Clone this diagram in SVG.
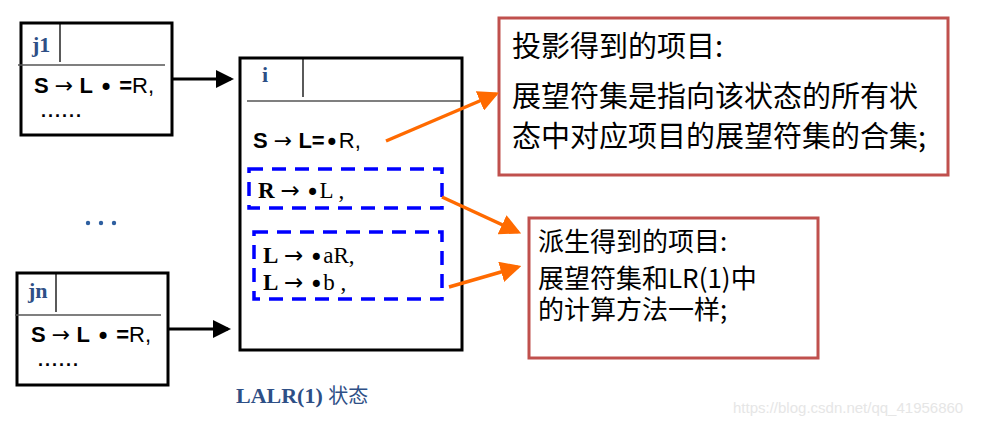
<svg xmlns="http://www.w3.org/2000/svg" width="986" height="426" viewBox="0 0 986 426">
<defs>
<style>
.box{fill:#fff;stroke:#000;stroke-width:3}
.thin{stroke:#000;stroke-width:1.3;fill:none}
.sep{stroke:#555;stroke-width:1.5;fill:none}
.lbl{font-family:"Liberation Serif",serif;font-weight:bold;fill:#2e4f86;font-size:22px}
.sans{font-family:"Liberation Sans",Arial,sans-serif;font-size:22px;fill:#000}
.serif{font-family:"Liberation Serif","Times New Roman",serif;font-size:23px;fill:#000}
.b{font-weight:bold}
.ar{font-family:"DejaVu Sans",sans-serif;font-weight:normal}
.dot{font-family:"DejaVu Sans",sans-serif;font-weight:normal;font-size:24px;baseline-shift:-3px}
.ell{font-family:"Liberation Sans",sans-serif;font-weight:bold;font-size:18px;letter-spacing:2px}
.dash{fill:none;stroke:#0000ff;stroke-width:3.5;stroke-dasharray:14,9}
.note{fill:#fff;stroke:#c0504d;stroke-width:3}
.cjk{font-family:"Noto Sans CJK SC","Liberation Sans",sans-serif;fill:#000}
.blk{stroke:#000;stroke-width:3;fill:none}
.org{stroke:#ff6a00;stroke-width:3.5;fill:none}
</style>
<marker id="ah" markerWidth="6" markerHeight="6" refX="5" refY="3" orient="auto" markerUnits="strokeWidth"><path d="M0,0 L6,3 L0,6 Z" fill="#000"/></marker>
<marker id="ao" markerWidth="6" markerHeight="6" refX="5" refY="3" orient="auto" markerUnits="strokeWidth"><path d="M0,0 L6,3 L0,6 Z" fill="#ff6a00"/></marker>
</defs>

<g id="j1">
<rect class="box" x="21" y="23" width="151" height="112"/>
<line class="thin" x1="60" y1="23" x2="60" y2="62"/>
<line class="sep" x1="18" y1="65" x2="165" y2="65"/>
<text class="lbl" x="32" y="52">j1</text>
<text class="sans" x="34" y="93"><tspan class="b">S</tspan> <tspan class="ar">→</tspan> <tspan class="b">L</tspan> <tspan class="dot">•</tspan> <tspan class="b">=</tspan>R,</text>
<text class="ell" x="41" y="117">......</text>
</g>

<g id="jn">
<rect class="box" x="17" y="273" width="151" height="112"/>
<line class="thin" x1="56" y1="273" x2="56" y2="312"/>
<line class="sep" x1="15" y1="315" x2="161" y2="315"/>
<text class="lbl" x="28" y="298">jn</text>
<text class="sans" x="31" y="342"><tspan class="b">S</tspan> <tspan class="ar">→</tspan> <tspan class="b">L</tspan> <tspan class="dot">•</tspan> <tspan class="b">=</tspan>R,</text>
<text class="ell" x="38" y="366">......</text>
</g>

<g id="dots" fill="#2e5fa0">
<circle cx="88" cy="223" r="2.2"/>
<circle cx="101" cy="223" r="2.2"/>
<circle cx="114" cy="223" r="2.2"/>
</g>

<g id="i">
<rect class="box" x="240" y="58" width="222" height="292"/>
<line class="thin" x1="303" y1="58" x2="303" y2="97"/>
<line class="sep" x1="247" y1="101" x2="461" y2="101"/>
<text class="lbl" x="262" y="82">i</text>
<text class="sans" x="253" y="148"><tspan class="b">S</tspan> <tspan class="ar">→</tspan> <tspan class="b">L=</tspan><tspan class="dot">•</tspan>R,</text>
<rect class="dash" x="249" y="169" width="193" height="39"/>
<text class="serif" x="258" y="198"><tspan class="b">R</tspan> <tspan class="ar">→</tspan> <tspan class="dot">•</tspan>L ,</text>
<rect class="dash" x="254" y="232" width="188" height="67"/>
<text class="serif" x="263" y="263"><tspan class="b">L</tspan> <tspan class="ar">→</tspan> <tspan class="dot">•</tspan>aR,</text>
<text class="serif" x="263" y="290"><tspan class="b">L</tspan> <tspan class="ar">→</tspan> <tspan class="dot">•</tspan>b ,</text>
<text x="236" y="403" font-family="Liberation Serif,serif" font-size="22" fill="#2e4f86"><tspan font-weight="bold">LALR(1)</tspan> <tspan font-family="Noto Sans CJK SC,sans-serif" font-size="20">状态</tspan></text>
</g>

<g id="note1">
<rect class="note" x="499" y="18" width="449" height="157"/>
<text class="cjk" font-size="29" x="512" y="57">投影得到的项目:</text>
<text class="cjk" font-size="29" x="512" y="107">展望符集是指向该状态的所有状</text>
<text class="cjk" font-size="29" x="512" y="147">态中对应项目的展望符集的合集;</text>
</g>

<g id="note2">
<rect class="note" x="529" y="218" width="289" height="140"/>
<text class="cjk" font-size="26" x="538" y="251">派生得到的项目:</text>
<text class="cjk" font-size="26" x="538" y="288">展望符集和LR(1)中</text>
<text class="cjk" font-size="26" x="538" y="319">的计算方法一样;</text>
</g>

<g id="connectors">
<line class="blk" x1="172" y1="79" x2="231" y2="79" marker-end="url(#ah)"/>
<line class="blk" x1="168" y1="329" x2="228" y2="329" marker-end="url(#ah)"/>
<line class="org" x1="386" y1="141" x2="496" y2="94" marker-end="url(#ao)"/>
<line class="org" x1="442" y1="197" x2="518" y2="232" marker-end="url(#ao)"/>
<line class="org" x1="449" y1="287" x2="518" y2="267" marker-end="url(#ao)"/>
</g>

<text x="733" y="413" font-family="Liberation Sans,sans-serif" font-size="15" fill="#e6e6e6">https://blog.csdn.net/qq_41956860</text>
</svg>
